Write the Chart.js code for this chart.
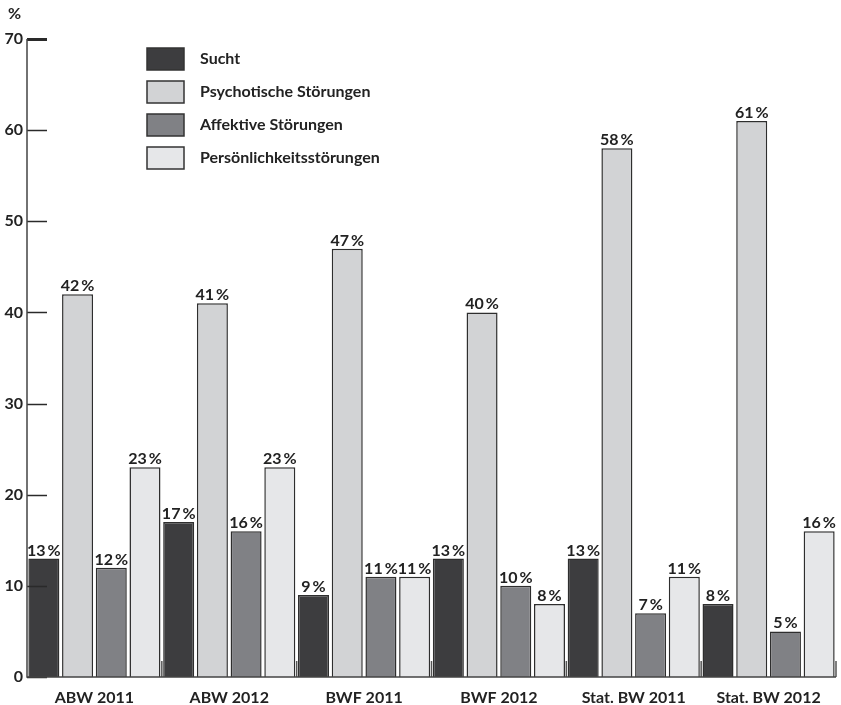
<!DOCTYPE html>
<html>
<head>
<meta charset="utf-8">
<script src="https://cdn.jsdelivr.net/npm/chart.js@4"></script>
<style>
  html, body { margin: 0; padding: 0; background: #fff; }
  #wrap { width: 841px; height: 705px; position: relative; }
</style>
</head>
<body>
<div id="wrap"><canvas id="c" width="841" height="705"></canvas></div>
<script>
// Categories and series (percent)
const categories = ['ABW 2011', 'ABW 2012', 'BWF 2011', 'BWF 2012', 'Stat. BW 2011', 'Stat. BW 2012'];
const sucht = [13, 17, 9, 13, 13, 8];
const psychotisch = [42, 41, 47, 40, 58, 61];
const affektiv = [12, 16, 11, 10, 7, 5];
const persoenlichkeit = [23, 23, 11, 8, 11, 16];
const yTicks = [0, 10, 20, 30, 40, 50, 60, 70];

const seriesNames = ['Sucht', 'Psychotische Störungen', 'Affektive Störungen', 'Persönlichkeitsstörungen'];
const seriesData = [sucht, psychotisch, affektiv, persoenlichkeit];
const fills = ['#3d3d3f', '#d2d3d5', '#808185', '#e6e7e9'];

const FONT = 'Lato, "Open Sans", sans-serif';
const SIZE = 16;
const INK = '#222';

// Value labels above each bar
const valueLabels = {
  id: 'valueLabels',
  afterDatasetsDraw(chart) {
    const ctx = chart.ctx;
    ctx.save();
    ctx.font = 'bold ' + SIZE + 'px ' + FONT;
    ctx.fillStyle = INK;
    ctx.textAlign = 'center';
    ctx.textBaseline = 'alphabetic';
    chart.data.datasets.forEach((ds, i) => {
      chart.getDatasetMeta(i).data.forEach((bar, j) => {
        ctx.fillText(ds.data[j] + '\u2009%', bar.x, bar.y - 3);
      });
    });
    ctx.restore();
  }
};

// Axis ticks pointing into the plot, plus the legend box
const axisDecor = {
  id: 'axisDecor',
  afterDraw(chart) {
    const ctx = chart.ctx;
    const area = chart.chartArea;
    const y = chart.scales.y;
    const x = chart.scales.x;
    const step = x.getPixelForValue(1) - x.getPixelForValue(0);
    ctx.save();
    ctx.strokeStyle = '#2a2a2a';
    // y ticks
    yTicks.forEach(v => {
      const py = Math.round(y.getPixelForValue(v)) + 0.5;
      ctx.lineWidth = v === 70 ? 3 : 1.5;
      ctx.beginPath();
      ctx.moveTo(area.left, py);
      ctx.lineTo(area.left + 20, py);
      ctx.stroke();
    });
    // short separators between groups on the baseline
    ctx.lineWidth = 1.5;
    ctx.strokeStyle = '#555';
    for (let i = 0; i < categories.length; i++) {
      const px = x.getPixelForValue(i) + step / 2;
      ctx.beginPath();
      ctx.moveTo(px, area.bottom);
      ctx.lineTo(px, area.bottom - 16);
      ctx.stroke();
    }
    // axis lines
    ctx.strokeStyle = '#444';
    ctx.lineWidth = 1.5;
    ctx.beginPath();
    ctx.moveTo(area.left, area.top);
    ctx.lineTo(area.left, area.bottom);
    ctx.lineTo(area.right, area.bottom);
    ctx.stroke();
    // "%" unit
    ctx.font = 'bold ' + SIZE + 'px ' + FONT;
    ctx.fillStyle = INK;
    ctx.textAlign = 'left';
    ctx.textBaseline = 'middle';
    ctx.fillText('%', 8, 14);
    // legend
    const lx = area.left + 120;
    seriesNames.forEach((name, i) => {
      const ty = area.top + 9 + i * 33;
      ctx.fillStyle = fills[i];
      ctx.fillRect(lx, ty, 37, 22);
      ctx.strokeStyle = '#333';
      ctx.lineWidth = 1.5;
      ctx.strokeRect(lx, ty, 37, 22);
      ctx.fillStyle = INK;
      ctx.font = 'bold ' + SIZE + 'px ' + FONT;
      ctx.fillText(name, lx + 53, ty + 11);
    });
    ctx.restore();
  }
};

new Chart(document.getElementById('c'), {
  type: 'bar',
  data: {
    labels: categories,
    datasets: seriesData.map((d, i) => ({
      label: seriesNames[i],
      data: d,
      backgroundColor: fills[i],
      borderColor: '#2e2e2e',
      borderWidth: 1.5,
      categoryPercentage: 1.0,
      barPercentage: 0.92
    }))
  },
  options: {
    responsive: false,
    animation: false,
    layout: { padding: { top: 39, right: 5, left: 0, bottom: 0 } },
    plugins: { legend: { display: false }, tooltip: { enabled: false } },
    scales: {
      x: {
        grid: { display: false, drawTicks: false },
        border: { display: false },
        ticks: { color: INK, font: { family: FONT, size: SIZE, weight: 'bold' }, padding: 11 },
        afterFit(s) { s.height = 28; }
      },
      y: {
        min: 0,
        max: 70,
        afterBuildTicks(s) { s.ticks = yTicks.map(v => ({ value: v })); },
        grid: { display: false, drawTicks: false },
        border: { display: false },
        ticks: { color: INK, font: { family: FONT, size: SIZE, weight: 'bold' }, padding: 4 },
        afterFit(s) { s.width = 27; }
      }
    }
  },
  plugins: [valueLabels, axisDecor]
});
</script>
</body>
</html>
